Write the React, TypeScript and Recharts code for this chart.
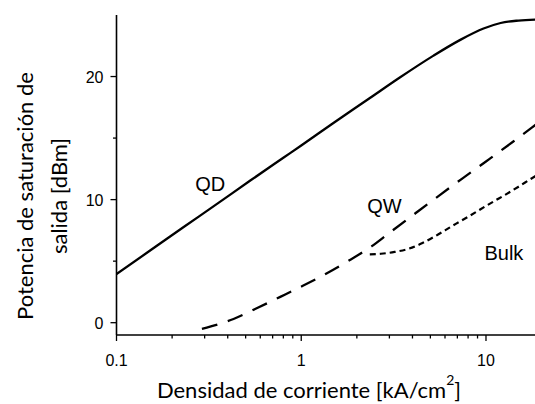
import { LineChart, Line, XAxis, YAxis, ReferenceDot, Label } from 'recharts';

// curve readings: current density [kA/cm2] vs saturation power [dBm]
const qdCurrent = [0.1, 0.15, 0.23, 0.35, 0.53, 0.8, 1.0, 1.5, 2.3, 3.4, 5.2, 7.3, 9.7, 12, 15, 20];
const qdPower = [3.95, 5.8, 7.75, 9.65, 11.55, 13.4, 14.4, 16.25, 18.15, 19.9, 21.7, 23.0, 23.9, 24.35, 24.55, 24.65];

const qwCurrent = [0.29, 0.43, 0.57, 0.77, 1.02, 1.37, 1.79, 2.4, 3.0, 4.2, 5.6, 7.5, 10, 14, 17.7, 20];
const qwPower = [-0.5, 0.3, 1.15, 2.1, 3.0, 4.0, 5.0, 6.2, 7.3, 8.95, 10.35, 11.75, 13.1, 14.7, 15.85, 16.45];

const bulkCurrent = [2.35, 2.7, 3.2, 3.8, 4.5, 5.2, 6.0, 6.9, 8.0, 9.3, 11, 12.9, 15, 18, 20];
const bulkPower = [5.55, 5.6, 5.75, 6.0, 6.45, 6.95, 7.5, 8.05, 8.6, 9.2, 9.85, 10.45, 11.05, 11.8, 12.2];

const curveNames = ['QD', 'QW', 'Bulk'];
const curveLabelCurrent = [0.322, 2.82, 12.5];
const curveLabelPower = [11.3, 9.5, 5.7];

const xMajorTicks = [0.1, 1, 10];
const xMinorTicks = [0.2, 0.3, 0.4, 0.5, 0.6, 0.7, 0.8, 0.9, 2, 3, 4, 5, 6, 7, 8, 9, 20];
const yMajorTicks = [0, 10, 20];
const yMinorTicks = [5, 15];

const toPoints = (xs: number[], ys: number[]) => xs.map((x, i) => ({ x, y: ys[i] }));

const qdData = toPoints(qdCurrent, qdPower);
const qwData = toPoints(qwCurrent, qwPower);
const bulkData = toPoints(bulkCurrent, bulkPower);

const tickFont = '"Liberation Sans", Arial, sans-serif';
const titleFont = 'Lato, "Open Sans", sans-serif';

function XTick(props: any) {
  const { x, y, payload } = props;
  const major = xMajorTicks.includes(payload.value);
  return (
    <g>
      <line x1={x} x2={x} y1={y} y2={y + (major ? 6 : 3.5)} stroke="#000" strokeWidth={1.3} />
      {major && (
        <text x={x} y={y + 30.5} textAnchor="middle" fontSize={16} fontFamily={tickFont} fill="#000">
          {payload.value}
        </text>
      )}
    </g>
  );
}

function YTick(props: any) {
  const { x, y, payload } = props;
  const major = yMajorTicks.includes(payload.value);
  return (
    <g>
      <line x1={x - (major ? 6 : 3.5)} x2={x} y1={y} y2={y} stroke="#000" strokeWidth={1.3} />
      {major && (
        <text x={x - 13} y={y + 6} textAnchor="end" fontSize={16} fontFamily={tickFont} fill="#000">
          {payload.value}
        </text>
      )}
    </g>
  );
}

const XTitle = () => (
  <text x={309} y={398} textAnchor="middle" fontSize={22} fontFamily={titleFont} fill="#000">
    Densidad de corriente [kA/cm
    <tspan dy={-13} fontSize={14}>2</tspan>
    <tspan dy={13}>]</tspan>
  </text>
);

const YTitle = () => (
  <g fontSize={22} fontFamily={titleFont} fill="#000" textAnchor="middle">
    <text x={33} y={196} transform="rotate(-90, 33, 196)">Potencia de saturación de</text>
    <text x={66.5} y={196} transform="rotate(-90, 66.5, 196)">salida [dBm]</text>
  </g>
);

export default function App() {
  return (
    <div style={{ position: 'absolute', left: 0, top: 0, width: 535, height: 404, overflow: 'hidden', background: '#fff' }}>
      <LineChart width={545} height={404} margin={{ top: 15, right: 3.4, bottom: 0, left: 0 }}>
        <XAxis
          dataKey="x"
          type="number"
          scale="log"
          domain={[0.1, 20]}
          allowDataOverflow
          ticks={[...xMajorTicks, ...xMinorTicks].sort((a, b) => a - b)}
          interval={0}
          height={69}
          tickSize={0}
          tickMargin={0}
          tickLine={false}
          tick={<XTick />}
          axisLine={{ stroke: '#000', strokeWidth: 1.6 }}
        >
          <Label content={XTitle} />
        </XAxis>
        <YAxis
          type="number"
          domain={[-1, 25]}
          allowDataOverflow
          ticks={[...yMajorTicks, ...yMinorTicks].sort((a, b) => a - b)}
          interval={0}
          width={116.5}
          tickSize={0}
          tickMargin={0}
          tickLine={false}
          tick={<YTick />}
          axisLine={{ stroke: '#000', strokeWidth: 1.6 }}
        >
          <Label content={YTitle} />
        </YAxis>
        <Line data={qdData} dataKey="y" type="monotone" stroke="#000" strokeWidth={2.3} dot={false} isAnimationActive={false} />
        <Line data={qwData} dataKey="y" type="monotone" stroke="#000" strokeWidth={2.3} strokeDasharray="16 11" dot={false} isAnimationActive={false} />
        <Line data={bulkData} dataKey="y" type="monotone" stroke="#000" strokeWidth={2.2} strokeDasharray="6 4" dot={false} isAnimationActive={false} />
        {curveNames.map((name, i) => (
          <ReferenceDot
            key={name}
            x={curveLabelCurrent[i]}
            y={curveLabelPower[i]}
            r={0}
            fill="none"
            stroke="none"
            label={{ value: name, position: 'center', fontSize: 20, fill: '#000', fontFamily: tickFont }}
          />
        ))}
      </LineChart>
    </div>
  );
}
